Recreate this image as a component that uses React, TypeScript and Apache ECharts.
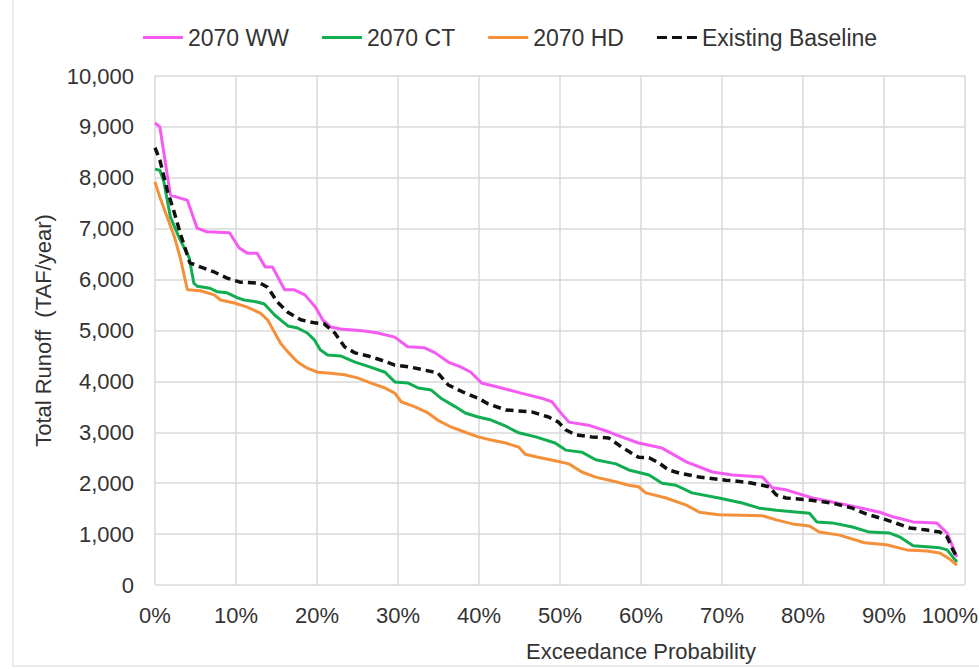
import React, { useEffect, useRef } from "react";
import * as echarts from "echarts";

// Exceedance probability (%) and total runoff (TAF/year) for each scenario
const wwProb = [0, 0.6, 1.9, 3.1, 4.0, 5.2, 6.4, 9.2, 10.4, 11.4, 12.6, 13.6, 14.5, 16.0, 17.2, 18.5, 19.8, 20.7, 21.7, 22.9, 25.9, 27.5, 29.6, 31.2, 33.3, 34.6, 36.2, 37.8, 39.0, 40.3, 42.8, 45.2, 47.7, 49.0, 49.8, 51.1, 53.5, 56.0, 57.6, 59.7, 62.6, 65.6, 68.8, 71.3, 75.0, 76.2, 77.9, 81.2, 83.6, 86.1, 89.5, 91.1, 93.6, 96.5, 97.8, 99.0];
const wwRunoff = [9080, 9000, 7660, 7600, 7560, 7010, 6940, 6920, 6620, 6520, 6520, 6250, 6250, 5800, 5800, 5700, 5460, 5210, 5070, 5030, 4990, 4950, 4870, 4680, 4660, 4560, 4380, 4280, 4180, 3970, 3870, 3770, 3670, 3600, 3440, 3200, 3140, 3010, 2910, 2790, 2690, 2420, 2220, 2160, 2120, 1910, 1870, 1710, 1630, 1550, 1430, 1340, 1240, 1220, 1020, 550];

const ctProb = [0, 0.6, 1.1, 1.9, 3.1, 4.2, 4.8, 5.2, 6.8, 7.7, 8.9, 10.2, 11.0, 12.6, 13.5, 14.8, 15.5, 16.4, 17.6, 18.8, 19.7, 20.4, 21.3, 22.9, 24.7, 26.6, 28.4, 29.6, 31.2, 32.5, 34.1, 35.3, 37.1, 38.3, 39.9, 41.5, 43.3, 44.9, 47.0, 49.4, 50.7, 52.7, 54.4, 56.9, 58.5, 61.0, 62.6, 64.3, 66.3, 69.6, 72.5, 74.6, 76.7, 80.8, 81.7, 83.6, 86.1, 88.2, 90.7, 92.0, 93.6, 96.9, 97.8, 99.0];
const ctRunoff = [8170, 8150, 7920, 7230, 6780, 6440, 5930, 5870, 5830, 5760, 5740, 5640, 5600, 5560, 5520, 5300, 5210, 5090, 5050, 4950, 4810, 4620, 4520, 4500, 4380, 4280, 4180, 3990, 3970, 3870, 3830, 3670, 3500, 3380, 3300, 3240, 3120, 2990, 2910, 2790, 2650, 2610, 2460, 2380, 2260, 2160, 2000, 1960, 1810, 1710, 1610, 1510, 1470, 1410, 1240, 1220, 1140, 1040, 1020, 940, 770, 730, 690, 450];

const hdProb = [0, 0.6, 1.5, 2.4, 3.1, 4.0, 5.6, 7.3, 8.1, 9.8, 11.4, 13.0, 13.9, 14.8, 15.5, 16.4, 17.6, 18.8, 20.1, 21.7, 23.4, 25.0, 26.6, 28.4, 29.6, 30.4, 32.1, 33.7, 34.9, 36.6, 37.8, 39.9, 41.5, 43.3, 44.9, 45.7, 47.3, 49.4, 51.1, 52.7, 54.4, 56.6, 58.5, 59.7, 60.6, 63.1, 65.6, 67.2, 69.6, 75.0, 76.7, 78.7, 80.8, 82.0, 84.5, 87.6, 90.3, 92.8, 95.3, 96.9, 98.1, 99.0];
const hdRunoff = [7920, 7620, 7230, 6840, 6440, 5800, 5780, 5700, 5600, 5540, 5460, 5340, 5210, 4950, 4750, 4580, 4380, 4260, 4180, 4160, 4130, 4070, 3970, 3870, 3770, 3600, 3500, 3380, 3240, 3100, 3030, 2910, 2850, 2790, 2710, 2570, 2510, 2440, 2380, 2220, 2120, 2040, 1960, 1930, 1810, 1710, 1570, 1430, 1380, 1360, 1280, 1200, 1160, 1040, 980, 830, 790, 690, 670, 630, 510, 390];

const baseProb = [0, 0.6, 1.5, 2.4, 3.1, 4.3, 5.6, 7.3, 8.9, 10.5, 13.0, 13.9, 15.1, 16.4, 18.0, 19.7, 20.9, 22.2, 23.4, 24.7, 26.3, 27.9, 29.6, 31.6, 33.3, 34.9, 36.2, 38.3, 39.9, 41.1, 43.3, 44.9, 46.5, 48.6, 49.8, 50.7, 51.9, 53.9, 56.0, 57.6, 59.7, 61.0, 62.2, 63.4, 64.7, 67.2, 70.5, 73.0, 75.0, 75.8, 76.7, 77.9, 80.8, 83.6, 86.1, 87.9, 90.3, 93.2, 95.3, 96.9, 97.8, 98.5, 99.0];
const baseRunoff = [8590, 8350, 7760, 7310, 6920, 6330, 6250, 6150, 6030, 5950, 5930, 5850, 5560, 5360, 5210, 5150, 5130, 4950, 4680, 4560, 4500, 4420, 4320, 4280, 4220, 4170, 3930, 3770, 3670, 3560, 3440, 3420, 3400, 3300, 3200, 3050, 2950, 2910, 2890, 2710, 2510, 2500, 2400, 2260, 2200, 2120, 2060, 2020, 1960, 1930, 1770, 1710, 1670, 1610, 1510, 1390, 1280, 1120, 1080, 1040, 940, 690, 550];

const seriesNames = ["2070 WW", "2070 CT", "2070 HD", "Existing Baseline"];
const seriesColors = ["#F55BF2", "#12AD50", "#F4903A", "#111111"];

const FONT = "'Liberation Sans', Arial, sans-serif";
const TEXT = "#333333";
const GRID = "#d9d9d9";

// Legend glyphs: a solid bar and a three-dash bar
const SOLID_ICON = "path://M0 0H40V3H0Z";
const DASH_ICON = "path://M0 0H10V3H0Z M15 0H25V3H15Z M30 0H40V3H30Z";

const zip = (xs: number[], ys: number[]) => xs.map((x, i) => [x, ys[i]]);

export default function App() {
  const ref = useRef<HTMLDivElement>(null);

  useEffect(() => {
    if (!ref.current) return;
    const chart = echarts.init(ref.current, undefined, { renderer: "svg" });

    const lineSeries = (name: string, data: number[][], color: string, dashed = false) => ({
      name,
      type: "line",
      data,
      symbol: "none",
      smooth: false,
      lineStyle: {
        color,
        width: dashed ? 3.5 : 3,
        type: dashed ? [8, 5] : "solid",
      },
      itemStyle: { color },
    });

    chart.setOption({
      animation: false,
      backgroundColor: "#ffffff",
      textStyle: { fontFamily: FONT },
      legend: {
        data: seriesNames.map((name, i) => ({ name, icon: i === 3 ? DASH_ICON : SOLID_ICON })),
        left: 143,
        top: 26,
        padding: 0,
        itemWidth: 40,
        itemHeight: 3,
        itemGap: 33,
        itemStyle: { borderWidth: 0 },
        textStyle: { fontFamily: FONT, fontSize: 23, color: TEXT },
      },
      // fixed plot box; the last tick label sits right at the page edge
      grid: { left: 155, right: 14, top: 76, bottom: 84, outerBoundsMode: "none" },
      xAxis: {
        type: "value",
        min: 0,
        max: 100,
        interval: 10,
        axisLine: { show: false },
        axisTick: { show: false },
        axisLabel: {
          formatter: (v: number) => (v === 100 ? `{edge|${v}%}` : `${v}%`),
          fontFamily: FONT,
          fontSize: 22,
          color: TEXT,
          margin: 19,
          rich: {
            edge: { fontFamily: FONT, fontSize: 22, color: TEXT, padding: [0, 30, 0, 0] },
          },
        },
        splitLine: { show: true, lineStyle: { color: GRID, width: 1.5 } },
      },
      yAxis: {
        type: "value",
        min: 0,
        max: 10000,
        interval: 1000,
        name: "Total Runoff  (TAF/year)",
        nameLocation: "middle",
        nameGap: 101,
        nameTextStyle: { fontFamily: FONT, fontSize: 22, color: TEXT },
        axisLine: { show: false },
        axisTick: { show: false },
        axisLabel: {
          formatter: (v: number) => v.toLocaleString("en-US"),
          fontFamily: FONT,
          fontSize: 22,
          color: TEXT,
          margin: 21,
        },
        splitLine: { show: true, lineStyle: { color: GRID, width: 1.5 } },
      },
      graphic: [
        {
          type: "rect",
          shape: { x: 13, y: -4, width: 980, height: 670 },
          style: { fill: "none", stroke: "#e4e4e4", lineWidth: 1.5 },
          silent: true,
        },
        {
          type: "text",
          x: 641,
          y: 651,
          style: {
            text: "Exceedance Probability",
            fontFamily: FONT,
            fontSize: 22,
            fill: TEXT,
            textAlign: "center",
            textVerticalAlign: "middle",
          },
        },
      ],
      series: [
        lineSeries(seriesNames[0], zip(wwProb, wwRunoff), seriesColors[0]),
        lineSeries(seriesNames[1], zip(ctProb, ctRunoff), seriesColors[1]),
        lineSeries(seriesNames[2], zip(hdProb, hdRunoff), seriesColors[2]),
        lineSeries(seriesNames[3], zip(baseProb, baseRunoff), seriesColors[3], true),
      ],
    });

    return () => chart.dispose();
  }, []);

  return (
    <div
      ref={ref}
      style={{ position: "absolute", left: 0, top: 0, width: 979, height: 669, background: "#fff" }}
    />
  );
}
